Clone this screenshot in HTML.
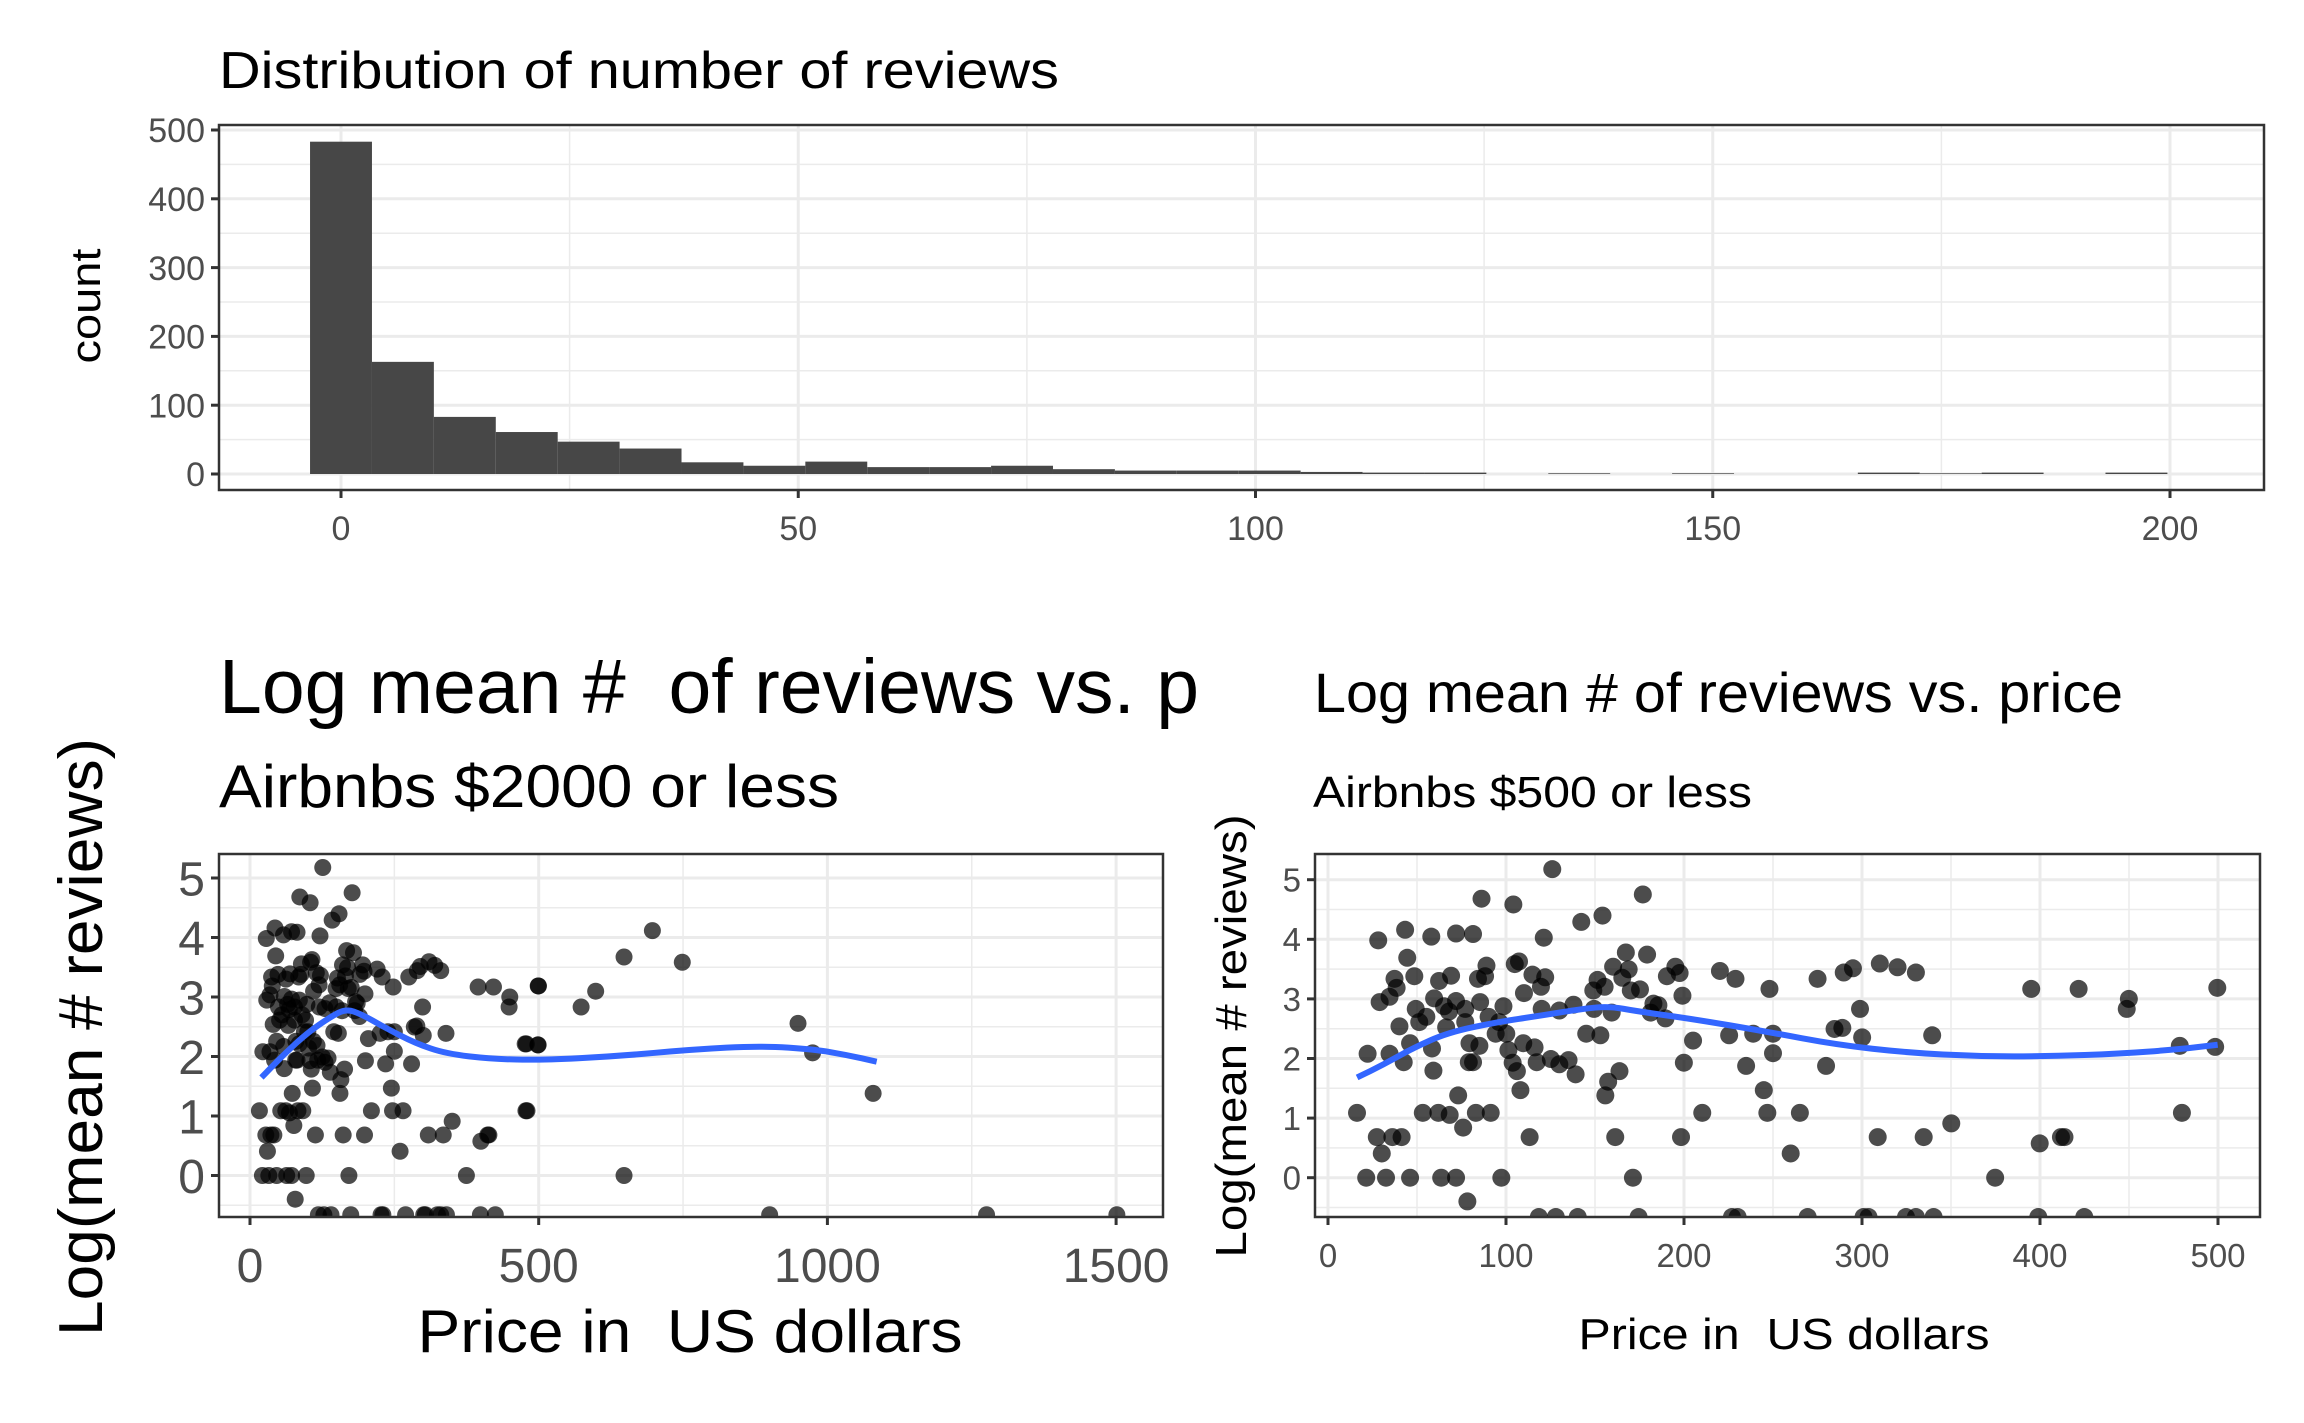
<!DOCTYPE html>
<html><head><meta charset="utf-8"><style>
html,body{margin:0;padding:0;background:#fff;}
svg{display:block;font-family:"Liberation Sans",Arial,sans-serif;}
text{white-space:pre;}
</style></head><body>
<svg id="s" width="2304" height="1423" viewBox="0 0 2304 1423" xmlns="http://www.w3.org/2000/svg" xml:space="preserve">
<rect width="2304" height="1423" fill="#fff"/>
<defs>
<clipPath id="cl"><rect x="219" y="854" width="944" height="363"/></clipPath>
<clipPath id="cr"><rect x="1315" y="854" width="945" height="363"/></clipPath>
<clipPath id="ct"><rect x="0" y="600" width="1200" height="200"/></clipPath>
</defs>
<g id="g"></g>
<text x="219" y="88" font-size="52" fill="#000" textLength="840" lengthAdjust="spacingAndGlyphs">Distribution of number of reviews</text>
<text x="219" y="713" font-size="77" fill="#000" clip-path="url(#ct)">Log mean #  of reviews vs. price</text>
<text x="219" y="807" font-size="60" fill="#000" textLength="620" lengthAdjust="spacingAndGlyphs">Airbnbs $2000 or less</text>
<text x="1314" y="712" font-size="56" fill="#000" textLength="809" lengthAdjust="spacingAndGlyphs">Log mean # of reviews vs. price</text>
<text x="1313" y="807" font-size="44" fill="#000" textLength="439" lengthAdjust="spacingAndGlyphs">Airbnbs $500 or less</text>
<text transform="translate(100,306) rotate(-90)" text-anchor="middle" font-size="42" fill="#000" textLength="115" lengthAdjust="spacingAndGlyphs">count</text>
<text transform="translate(102,1037) rotate(-90)" text-anchor="middle" font-size="62" fill="#000" textLength="598" lengthAdjust="spacingAndGlyphs">Log(mean # reviews)</text>
<text transform="translate(1246,1036) rotate(-90)" text-anchor="middle" font-size="44" fill="#000" textLength="443" lengthAdjust="spacingAndGlyphs">Log(mean # reviews)</text>
<text x="690" y="1352" text-anchor="middle" font-size="60" fill="#000" textLength="545" lengthAdjust="spacingAndGlyphs">Price in  US dollars</text>
<text x="1784" y="1349" text-anchor="middle" font-size="44" fill="#000" textLength="411" lengthAdjust="spacingAndGlyphs">Price in  US dollars</text>
</svg>
<script>
(function(){
var NS="http://www.w3.org/2000/svg",g=document.getElementById("g");
function el(t,a,p){var e=document.createElementNS(NS,t);for(var k in a)e.setAttribute(k,a[k]);(p||g).appendChild(e);return e;}
function txt(x,y,s,fs,anc){var e=el("text",{x:x,y:y,"font-size":fs,fill:"#4d4d4d","text-anchor":anc});e.textContent=s;}
function panel(o){
 el("rect",{x:o.x0,y:o.y0,width:o.x1-o.x0,height:o.y1-o.y0,fill:"#fff"});
 o.ymin.forEach(function(v){var y=o.fy(v);if(y>o.y0&&y<o.y1)el("line",{x1:o.x0,x2:o.x1,y1:y,y2:y,stroke:"#ebebeb","stroke-width":1.5});});
 o.xmin.forEach(function(v){var x=o.fx(v);if(x>o.x0&&x<o.x1)el("line",{x1:x,x2:x,y1:o.y0,y2:o.y1,stroke:"#ebebeb","stroke-width":1.5});});
 o.ymaj.forEach(function(v){var y=o.fy(v);el("line",{x1:o.x0,x2:o.x1,y1:y,y2:y,stroke:"#ebebeb","stroke-width":3});
   el("line",{x1:o.x0-8,x2:o.x0,y1:y,y2:y,stroke:"#333","stroke-width":3});
   txt(o.x0-14,y+o.tfs*0.36,String(v),o.tfs,"end");});
 o.xmaj.forEach(function(v){var x=o.fx(v);el("line",{x1:x,x2:x,y1:o.y0,y2:o.y1,stroke:"#ebebeb","stroke-width":3});
   el("line",{x1:x,x2:x,y1:o.y1,y2:o.y1+8,stroke:"#333","stroke-width":3});
   txt(x,o.xlabY,String(v),o.tfs,"middle");});
}
function border(o){el("rect",{x:o.x0,y:o.y0,width:o.x1-o.x0,height:o.y1-o.y0,fill:"none",stroke:"#333","stroke-width":2.5});}

var T={x0:219,x1:2264,y0:125,y1:490,fx:function(v){return 341+v*9.145;},fy:function(v){return 474-v*0.688;},
 xmaj:[0,50,100,150,200],xmin:[-25,25,75,125,175,225],ymaj:[0,100,200,300,400,500],ymin:[50,150,250,350,450],tfs:34,xlabY:540};
panel(T);
var counts=[483,163,83,61,47,37,17,12,18,10,10,12,7,5,5,5,3,2,2,0,1,0,1,0,0,2,1,2,0,2];
var bw=6.77;
counts.forEach(function(c,i){if(c<=0)return;var xa=T.fx(i*bw-bw/2),xb=T.fx(i*bw+bw/2),y=T.fy(c);
 el("rect",{x:xa,y:y,width:xb-xa,height:474-y,fill:"#474747"});});
border(T);

var R=[[252,645],[290,625],[327,638],[362,632],[386,633],[398,566],[443,577],[498,510],[539,610],[569,598],[626,558],[486,640],[293,678],[303,713],[275,718],[278,735],[268,752],[254,762],[405,693],[403,713],[393,718],[355,712],[338,722],[331,755],[345,770],[375,775],[396,762],[429,770],[445,690],[451,685],[470,710],[488,715],[483,775],[458,745],[482,733],[508,778],[528,767],[556,740],[562,720],[572,733],[584,695],[602,668],[606,700],[597,716],[609,740],[622,738],[632,672],[641,765],[648,768],[637,782],[557,775],[582,782],[658,793],[660,713],[672,695],[678,707],[682,750],[735,703],[757,718],[805,737],[873,718],[910,706],[923,698],[961,689],[986,696],[1012,706],[933,775],[936,829],[897,813],[908,811],[885,883],[1035,825],[1175,737],[1242,737],[1313,756],[1310,775],[1385,845],[1438,735],[1435,847],[1388,972],[1187,1030],[1217,1018],[1222,1018],[1124,1095],[1062,992],[1023,1018],[958,1018],[835,1049],[848,972],[802,972],[797,929],[810,859],[782,822],[810,822],[772,883],[748,825],[697,835],[684,877],[710,972],[680,1018],[587,1018],[612,1095],[593,893],[577,913],[573,939],[566,825],[546,822],[531,899],[521,872],[508,880],[496,870],[476,876],[473,848],[457,840],[453,929],[448,893],[442,877],[436,853],[433,822],[423,800],[418,822],[408,790],[395,845],[386,876],[380,876],[381,840],[375,800],[365,939],[353,976],[337,972],[315,972],[372,1000],[390,972],[411,972],[466,1018],[426,1095],[362,1095],[341,1095],[297,1095],[263,1095],[235,1095],[257,1049],[250,1018],[272,1018],[285,1018],[222,972],[237,860],[268,860],[288,876],[282,808],[297,840],[328,850],[330,892],[310,800],[320,790],[305,775],[348,810],[352,780],[362,760],[378,1140]];
var BOT=[479,503,534,620,752,760,859,938,945,998,1012,1037,1185,1250];
var data=R.map(function(p){return [(p[0]-181)/1258*500,(1095-p[1])/113];});
BOT.forEach(function(zx){data.push([(zx-181)/1258*500,-0.66]);});
var L2=[[816,680],[853,630],[892,690],[760,775],[779,745],[704,735],[687,845],[704,847],[688,972],[816,1095],[1043,806],[1062,862],[1141,939]];
var extra=L2.map(function(p){return [(p[0]-328)/1130*1500,(1095-p[1])/113];});
[1006,1289,1459].forEach(function(zx){extra.push([(zx-328)/1130*1500,-0.66]);});

var Lp={x0:219,x1:1163,y0:854,y1:1217,fx:function(v){return 250+v*0.5774;},fy:function(v){return 1175.5-v*59.5;},
 xmaj:[0,500,1000,1500],xmin:[250,750,1250],ymaj:[0,1,2,3,4,5],ymin:[-0.5,0.5,1.5,2.5,3.5,4.5],tfs:48,xlabY:1282};
panel(Lp);
var gl=el("g",{"clip-path":"url(#cl)"});
data.concat(extra).forEach(function(d){el("circle",{cx:Lp.fx(d[0]),cy:Lp.fy(d[1]),r:8.5,fill:"rgba(0,0,0,0.7)"},gl);});
var LC=[[340,905],[370,860],[400,820],[430,790],[450,775],[470,785],[500,810],[540,840],[580,860],[640,870],[704,872],[800,865],[900,852],[990,845],[1060,852],[1100,862],[1140,875]];
function path(pts,fx,fy){var s="";pts.forEach(function(p,i){var x=fx(p[0]),y=fy(p[1]);
 if(i==0){s+="M"+x+","+y;}else{var q=pts[i-1],px=fx(q[0]),py=fy(q[1]);s+=" Q"+px+","+py+" "+((px+x)/2)+","+((py+y)/2);}});
 var l=pts[pts.length-1];s+=" L"+fx(l[0])+","+fy(l[1]);return s;}
el("path",{d:path(LC,function(x){return x*0.769;},function(y){return 600+y*0.5276;}),fill:"none",stroke:"#3366FF","stroke-width":6},gl);
border(Lp);

var Rp={x0:1315,x1:2260,y0:854,y1:1217,fx:function(v){return 1328+v*1.78;},fy:function(v){return 1177.7-v*59.6;},
 xmaj:[0,100,200,300,400,500],xmin:[50,150,250,350,450],ymaj:[0,1,2,3,4,5],ymin:[-0.5,0.5,1.5,2.5,3.5,4.5],tfs:33,xlabY:1267};
panel(Rp);
var gr=el("g",{"clip-path":"url(#cr)"});
data.forEach(function(d){el("circle",{cx:Rp.fx(d[0]),cy:Rp.fy(d[1]),r:9,fill:"rgba(0,0,0,0.7)"},gr);});
var RC=[[222,905],[260,880],[300,850],[350,820],[420,800],[480,788],[540,775],[578,770],[620,780],[700,795],[800,818],[900,843],[1000,858],[1100,865],[1200,865],[1300,860],[1380,852],[1438,843]];
el("path",{d:path(RC,function(x){return 1200+x*0.7077;},function(y){return 600+y*0.5276;}),fill:"none",stroke:"#3366FF","stroke-width":6},gr);
border(Rp);
})();
</script>
</body></html>
